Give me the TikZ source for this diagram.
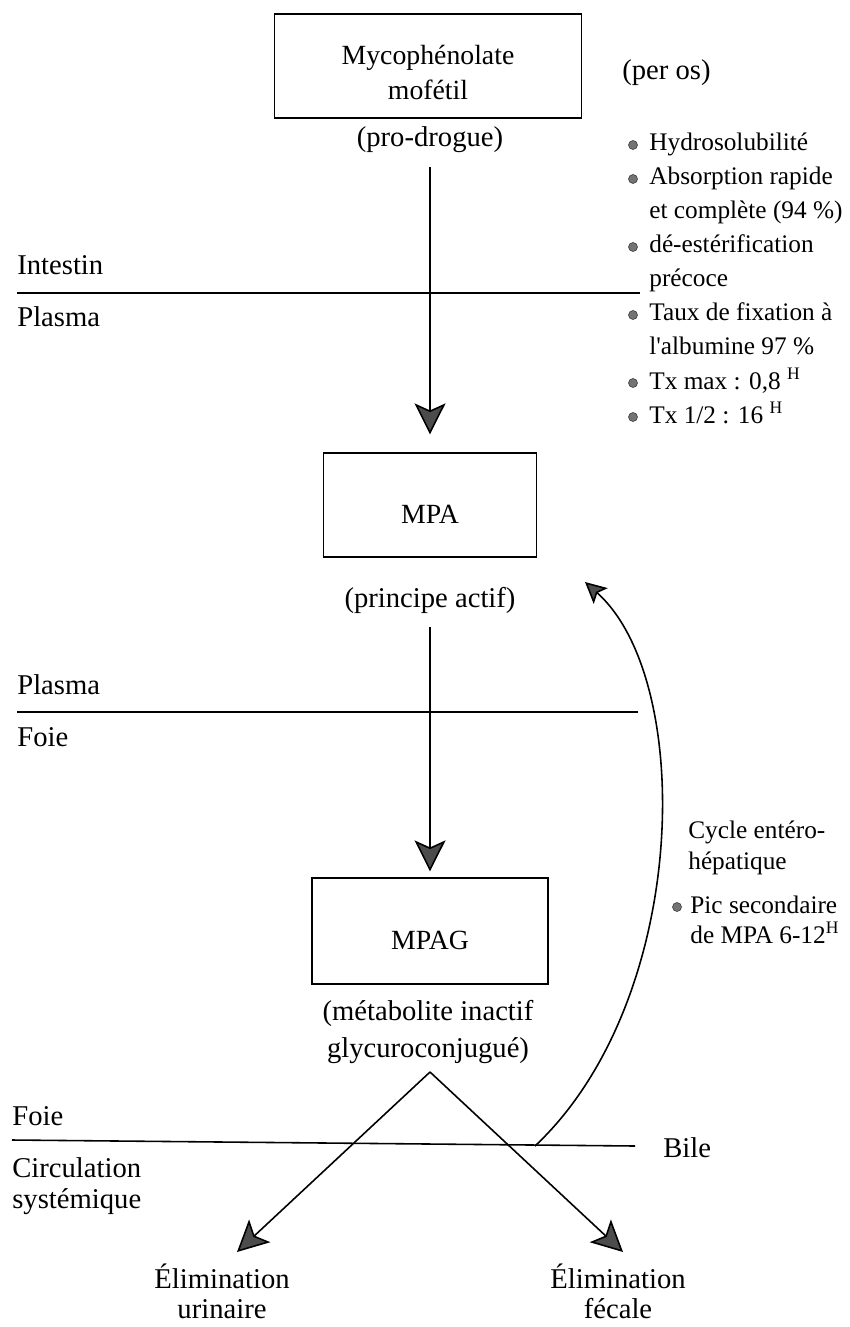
\documentclass[tikz,border=0pt]{standalone}
\usepackage{fontspec}
\setmainfont{Liberation Serif}
\usetikzlibrary{arrows.meta}

\newcommand{\grande}{\fontsize{16.3}{21}\selectfont}
\newcommand{\chica}{\fontsize{14.4}{17}\selectfont}

\begin{document}
\begin{tikzpicture}[x=0.02cm, y=-0.02cm,
    caja/.style={draw, line width=0.7pt, inner sep=0pt, font=\fontsize{15.8}{20}\selectfont,
        text height=0.74cm, text depth=0pt},
    rotulo/.style={font=\grande, align=center},
    lateral/.style={font=\grande, anchor=base west, inner sep=0pt},
    lista/.style={font=\chica, anchor=base west, inner sep=0pt},
    punto/.style={fill=black!55, draw=black!80, line width=0.3pt},
    separador/.style={line width=0.9pt},
    flecha/.style={line width=0.9pt, -{Stealth[length=0.62cm, width=0.62cm, inset=0.14cm, fill=black!70]}},
    flechacurva/.style={line width=0.9pt, -{Stealth[length=0.42cm, width=0.42cm, inset=0.09cm, fill=black!70]}}]

    \useasboundingbox (0,0) rectangle (849,1327);

    % Cajas
    \node[caja, minimum width=6.14cm, minimum height=2.08cm, text height=1.36cm] (mmf) at (428,66)
        {\begin{tabular}[b]{@{}c@{}}Mycophénolate\\mofétil\end{tabular}};
    \node[caja, minimum width=4.26cm, minimum height=2.08cm] (mpa) at (430,505) {MPA};
    \node[caja, minimum width=4.72cm, minimum height=2.12cm] (mpag) at (430,931) {MPAG};

    % Rotulos bajo las cajas
    \node[rotulo] (prodrogue) at (430,140) {(pro-drogue)};
    \node[rotulo] (actif) at (430,600) {(principe actif)};
    \node[rotulo] (inactif) at (428,1032) {(métabolite inactif\\glycuroconjugué)};

    % Flechas verticales
    \draw[flecha, shorten <=0.15cm, shorten >=0.36cm] (prodrogue) -- (mpa);
    \draw[flecha, shorten <=0.15cm, shorten >=0.12cm] (actif) -- (mpag);

    % Separadores
    \draw[separador] (17,293) -- (640,293);
    \draw[separador] (17,712) -- (638,712);
    \draw[separador] (12,1140) -- (635,1146);

    % Compartimentos
    \node[lateral] (intestin) at (17,275) {Intestin};
    \node[lateral] (plasmaA) at (17,327) {Plasma};
    \node[lateral] (plasmaB) at (17,694) {Plasma};
    \node[lateral] (foieA) at (17,746) {Foie};
    \node[lateral] (foieB) at (12,1125) {Foie};
    \node[lateral] (circulation) at (12,1177) {Circulation};
    \node[lateral] (systemique) at (12,1208) {systémique};
    \node[lateral] (bile) at (663,1157) {Bile};
    \node[lateral] (peros) at (622,80) {(per os)};

    % Propiedades
    \foreach \y/\texto in {151/Hydrosolubilité, 185/Absorption rapide, 219/et complète (94~\%),
        253/dé-estérification, 287/précoce, 321/Taux de fixation à, 355/l\textquotesingle albumine 97~\%,
        389/{Tx max : 0,8 \textsuperscript{H}}, 423/{Tx 1/2 : 16 \textsuperscript{H}}} {
        \node[lista] (prop\y) at (649,\y) {\texto};
    }
    \foreach \y in {145,179,247,315,383,417} {
        \filldraw[punto] (633,\y) circle (0.09cm); % puntos
    }

    % Eliminacion
    \coordinate (sommet) at (430,1072);
    \coordinate (finurin) at (237,1252);
    \coordinate (finfec) at (623,1252);
    \draw[flecha] (sommet) -- (finurin);
    \draw[flecha] (sommet) -- (finfec);
    \node[font=\fontsize{16.3}{17}\selectfont, anchor=base, inner sep=0pt] (urinaire) at (222,1318)
        {\begin{tabular}[b]{@{}c@{}}Élimination\\urinaire\end{tabular}};
    \node[font=\fontsize{16.3}{17}\selectfont, anchor=base, inner sep=0pt] (fecale) at (618,1318)
        {\begin{tabular}[b]{@{}c@{}}Élimination\\fécale\end{tabular}};

    % Ciclo entero-hepatico
    \coordinate (biledep) at (535,1146);
    \coordinate (ciclofin) at (585,582);
    \draw[flechacurva] (biledep) .. controls (690,1000) and (695,680) .. (ciclofin);
    \node[lista] (cicloA) at (688,838) {Cycle entéro-};
    \node[lista] (cicloB) at (688,869) {hépatique};
    \filldraw[punto] (677,907) circle (0.09cm);
    \node[lista] (picA) at (690,913) {Pic secondaire};
    \node[lista] (picB) at (690,943) {de MPA 6-12\textsuperscript{H}};
\end{tikzpicture}
\end{document}
